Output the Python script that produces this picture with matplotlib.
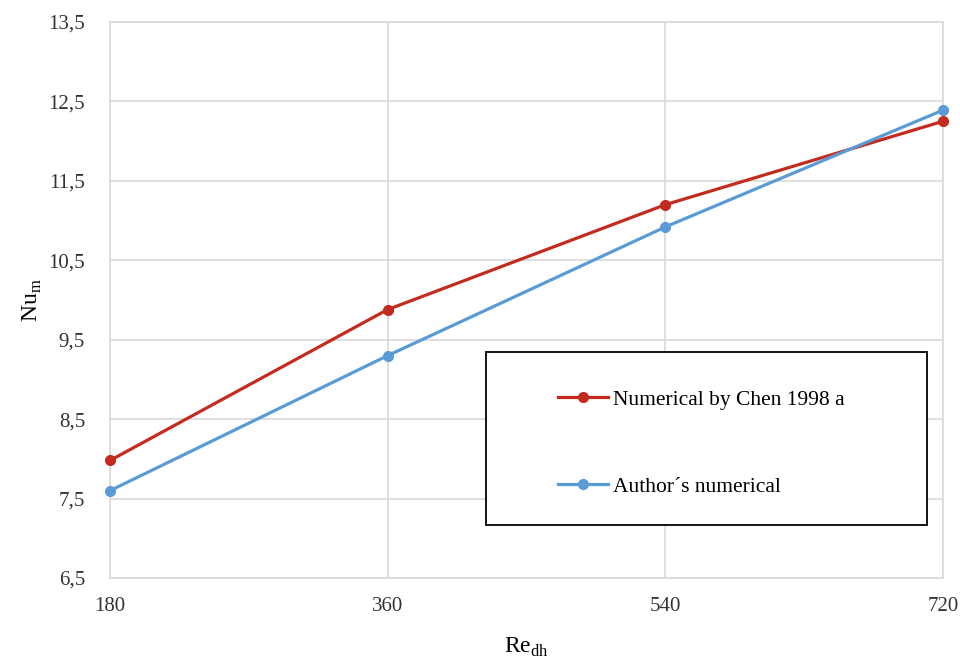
import matplotlib
matplotlib.use("Agg")
import matplotlib.pyplot as plt
from matplotlib.patches import Rectangle
from matplotlib.ticker import FuncFormatter

plt.rcParams["font.family"] = ["Liberation Serif", "DejaVu Serif"]
plt.rcParams["mathtext.fontset"] = "custom"
plt.rcParams["mathtext.rm"] = "Liberation Serif"

re_dh = [180, 360, 540, 720]
chen_1998 = [7.98, 9.88, 11.2, 12.25]
authors = [7.6, 9.3, 10.92, 12.39]
y_ticks = [6.5, 7.5, 8.5, 9.5, 10.5, 11.5, 12.5, 13.5]

red = "#C42B1F"
blue = "#5B9BD5"
grid_col = "#D9D9D9"

fig = plt.figure(figsize=(9.6, 6.6), dpi=100)
ax = fig.add_axes([0.1146, 0.1242, 0.8677, 0.8425])

ax.plot(re_dh, chen_1998, color=red, lw=2.3, marker="o", ms=7,
        label="Numerical by Chen 1998 a", zorder=3, clip_on=False)
ax.plot(re_dh, authors, color=blue, lw=2.3, marker="o", ms=7,
        label="Author\u00b4s numerical", zorder=3, clip_on=False)

ax.set_xlim(180, 720)
ax.set_ylim(6.5, 13.5)
ax.set_xticks(re_dh)
ax.set_yticks(y_ticks)
ax.yaxis.set_major_formatter(FuncFormatter(lambda v, p: f"{v:.1f}".replace(".", ",")))
ax.grid(True, color=grid_col, lw=1.2)
ax.set_axisbelow(True)
for s in ax.spines.values():
    s.set_color(grid_col)
    s.set_linewidth(1.2)
ax.tick_params(length=0, labelsize=15, colors="#333333")
ax.tick_params(axis="y", pad=18)
ax.tick_params(axis="x", pad=14)

ax.set_xlabel(r"Re$_{\mathrm{dh}}$", fontsize=17, labelpad=14)
ax.set_ylabel(r"Nu$_{\mathrm{m}}$", fontsize=17, labelpad=3)

# legend box
ax.add_patch(Rectangle((0.451, 0.095), 0.530, 0.311, transform=ax.transAxes,
                       fill=True, facecolor="white", edgecolor="black", lw=1.3, zorder=4))
leg = ax.legend(loc="upper left", bbox_to_anchor=(0.5275, 0.354), frameon=False,
                fontsize=15.5, labelspacing=3.1, handlelength=2.33, handletextpad=0.23,
                borderaxespad=0)
leg.set_zorder(5)

fig.savefig("out.png", dpi=100)
